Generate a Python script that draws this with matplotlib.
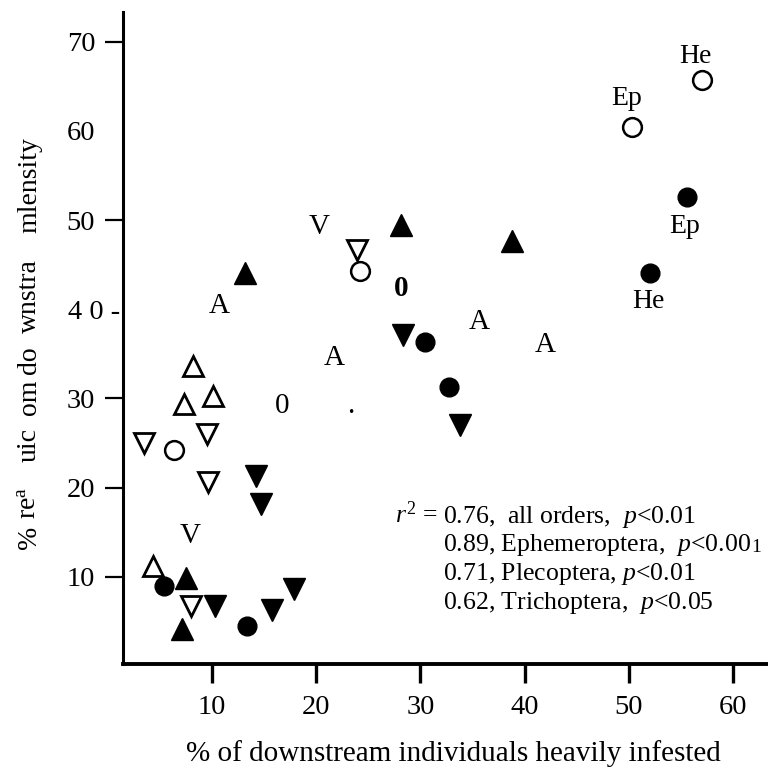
import matplotlib
matplotlib.use("Agg")
import matplotlib.pyplot as plt
from matplotlib.transforms import ScaledTranslation

plt.rcParams['font.family'] = ['Liberation Serif', 'DejaVu Serif']
plt.rcParams['mathtext.fontset'] = 'custom'
plt.rcParams['mathtext.rm'] = 'Liberation Serif'
plt.rcParams['mathtext.it'] = 'Liberation Serif:italic'

# ---- data ----
open_circle_x = [57.0, 50.3, 24.2, 6.4]
open_circle_y = [65.7, 60.4, 44.3, 24.2]
filled_circle_x = [55.6, 52.0, 30.4, 32.7, 5.4, 13.4]
filled_circle_y = [52.6, 44.1, 36.3, 31.3, 9.0, 4.5]
filled_up_x = [13.2, 28.1, 38.8, 7.5, 7.1]
filled_up_y = [44.1, 49.5, 47.7, 9.9, 4.2]
open_up_x = [8.2, 7.3, 10.1, 4.3]
open_up_y = [33.6, 29.4, 30.3, 11.2]
filled_down_x = [28.3, 33.8, 14.2, 14.7, 17.9, 15.8, 10.3]
filled_down_y = [37.1, 27.0, 21.3, 18.2, 8.6, 6.3, 6.7]
open_down_x = [23.9, 3.5, 9.5, 9.6, 8.0]
open_down_y = [46.7, 25.0, 26.0, 20.6, 6.7]

# characters that stand in for symbols in the scanned figure
glyph_chars = ["V", "A", "A", "0", "A", "A", "0", ".", "V"]
glyph_x = [20.3, 10.7, 21.7, 28.2, 35.6, 42.0, 16.7, 23.3, 7.9]
glyph_y = [48.4, 39.6, 33.8, 41.5, 37.8, 35.2, 28.4, 28.4, 13.8]
glyph_bold = [False, False, False, True, False, False, False, False, False]

# point labels: (text, which series, index)
point_labels = [("He", "open", 0), ("Ep", "open", 1), ("Ep", "filled", 0), ("He", "filled", 1)]
label_offsets_px = [(-6, 17), (-5, 22), (-2, -36), (-1, -35)]

x_ticks = [10, 20, 30, 40, 50, 60]
x_tick_labels = ["10", "20", "30", "40", "50", "60"]
y_ticks = [10, 20, 30, 40, 50, 60, 70]
y_tick_labels = ["10", "20", "30", "4 0 -", "50", "60", "70"]

stats_values = ["0.76,  all orders,  ", "0.89, Ephemeroptera,  ", "0.71, Plecoptera, ", "0.62, Trichoptera,  "]
stats_p = ["<0.01", "<0.00", "<0.01", "<0.05"]

xlabel = "% of downstream individuals heavily infested"
ylabel_words = ["%", r"re$^{\mathrm{a}}$", "uic", "om", "do", "wnstra", "mlensity"]
ylabel_word_centers_px = [537, 503, 445, 397, 360, 296, 185]

# ---- figure ----
W = 768
fig = plt.figure(figsize=(7.68, 7.68), dpi=100)
ax = fig.add_axes([123 / W, 1 - 664 / W, 1 - 123 / W, (664 - 12) / W])
ax.set_xlim(1.46, 63.36)
ax.set_ylim(0.22, 73.34)

for s in ['top', 'right']:
    ax.spines[s].set_visible(False)
ax.spines['left'].set_linewidth(2.2)
ax.spines['bottom'].set_linewidth(2.8)

ax.set_xticks(x_ticks)
ax.set_xticklabels(x_tick_labels)
ax.set_yticks(y_ticks)
ax.set_yticklabels(y_tick_labels)
ax.tick_params(axis='x', direction='out', length=14, width=2.4, pad=8, labelsize=20.5)
ax.tick_params(axis='y', direction='out', length=13, width=1.6, pad=7, labelsize=20.5)
for i, v in enumerate(y_ticks):
    if v in (40, 60):
        ax.yaxis.get_major_ticks()[i].tick1line.set_visible(False)
for lab in ax.get_yticklabels():
    if lab.get_text() == "4 0 -":
        lab.set_transform(lab.get_transform() + ScaledTranslation(25 / 100, 0, fig.dpi_scale_trans))

ms_c = 13.5
ms_t = 16.5
ax.plot(filled_circle_x, filled_circle_y, 'o', ms=ms_c, color='black', ls='none', zorder=3)
ax.plot(open_circle_x, open_circle_y, 'o', ms=ms_c, mfc='white', mec='black', mew=1.8, ls='none', zorder=3)
ax.plot(filled_up_x, filled_up_y, '^', ms=ms_t, color='black', ls='none', zorder=3)
ax.plot(open_up_x, open_up_y, '^', ms=ms_t - 2, mfc='white', mec='black', mew=2.0, ls='none', zorder=3)
ax.plot(filled_down_x, filled_down_y, 'v', ms=ms_t, color='black', ls='none', zorder=3)
ax.plot(open_down_x, open_down_y, 'v', ms=ms_t - 2, mfc='white', mec='black', mew=2.0, ls='none', zorder=3)

for ch, gx, gy, b in zip(glyph_chars, glyph_x, glyph_y, glyph_bold):
    ax.text(gx, gy, ch, fontsize=21, ha='center', va='baseline',
            fontweight='bold' if b else 'normal', zorder=4)

series = {"open": (open_circle_x, open_circle_y), "filled": (filled_circle_x, filled_circle_y)}
for (txt, key, idx), (dx, dy) in zip(point_labels, label_offsets_px):
    sx, sy = series[key]
    ax.annotate(txt, xy=(sx[idx], sy[idx]), xytext=(dx * 0.72, dy * 0.72),
                textcoords='offset points', ha='center', va='baseline', fontsize=20)

# statistics block
ax_w = W - 123
ax_h = 664 - 12
x0 = (443 - 123) / ax_w
base0 = 523
step = 28.5
ax.text((437 - 123) / ax_w, (664 - base0) / ax_h, r"$\it{r}^{\mathrm{2}}$ =", transform=ax.transAxes,
        ha='right', va='baseline', fontsize=18.5)
for i, (v, p) in enumerate(zip(stats_values, stats_p)):
    yb = (664 - (base0 + i * step)) / ax_h
    t = ax.text(x0, yb, v + r"$\it{p}$" + p, transform=ax.transAxes,
                ha='left', va='baseline', fontsize=18.5)
    if i == 1:
        ax.annotate("1", xy=(1, yb), xycoords=(t, ax.transAxes), xytext=(0.5, 0),
                    textcoords='offset points', ha='left', va='baseline', fontsize=14)

ax.set_xlabel(xlabel, fontsize=21, va='baseline')
ax.xaxis.set_label_coords(453 / W, 1 - 761 / W, transform=fig.transFigure)

for w, c in zip(ylabel_words, ylabel_word_centers_px):
    fig.text(36 / W, 1 - c / W, w, rotation=90, rotation_mode='anchor',
             ha='center', va='baseline', fontsize=20)

fig.savefig("out.png", dpi=100)
